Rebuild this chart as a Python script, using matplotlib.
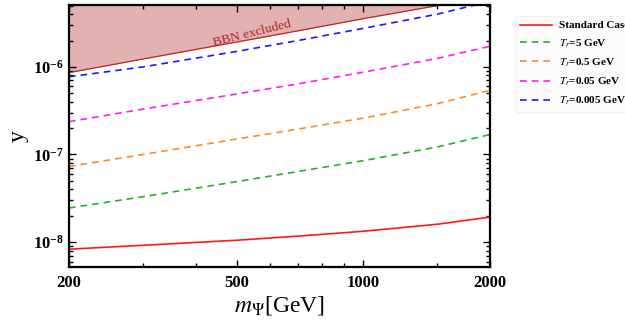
import numpy as np
import matplotlib
matplotlib.use('Agg')
import matplotlib.pyplot as plt
from matplotlib.ticker import FixedLocator, NullFormatter, LogLocator

# mass grid [GeV]
m = [200, 300, 500, 700, 1000, 1500, 2000]

# Yukawa coupling curves
y_standard = [8.3e-9, 9.2e-9, 1.05e-8, 1.17e-8, 1.33e-8, 1.6e-8, 1.93e-8]
y_tr5 = [2.45e-8, 3.3e-8, 4.9e-8, 6.4e-8, 8.5e-8, 1.22e-7, 1.69e-7]
y_tr05 = [7.3e-8, 1.0e-7, 1.5e-7, 1.95e-7, 2.6e-7, 3.8e-7, 5.4e-7]
y_tr005 = [2.37e-7, 3.3e-7, 4.9e-7, 6.4e-7, 8.7e-7, 1.25e-6, 1.72e-6]
y_tr0005 = [7.7e-7, 1.0e-6, 1.5e-6, 2.0e-6, 2.75e-6, 4.0e-6, 5.6e-6]
y_bbn = [8.6e-7, 1.23e-6, 1.92e-6, 2.58e-6, 3.55e-6, 5.0e-6, 6.5e-6]

x_ticks = [200, 500, 1000, 2000]

plt.rcParams['font.family'] = ['Liberation Serif', 'DejaVu Serif']
plt.rcParams['mathtext.fontset'] = 'stix'

fig = plt.figure(figsize=(6.25, 3.26), dpi=100)
ax = fig.add_axes([0.1104, 0.181, 0.6736, 0.804])

ax.fill_between(m, y_bbn, 1e-4, color='#e2b1b1', lw=0)
ax.plot(m, y_bbn, color='#b22a2a', lw=0.9)

ax.plot(m, y_standard, color='#ff1a1a', lw=1.2, label='Standard Case')
ax.plot(m, y_tr5, color='#1fb51f', lw=1.2, ls=(0, (4, 3)), label=r'$\boldsymbol{T_r}$=5 GeV')
ax.plot(m, y_tr05, color='#ff8c1a', lw=1.2, ls=(0, (4, 3)), label=r'$\boldsymbol{T_r}$=0.5 GeV')
ax.plot(m, y_tr005, color='#ff1aff', lw=1.2, ls=(0, (4, 3)), label=r'$\boldsymbol{T_r}$=0.05 GeV')
ax.plot(m, y_tr0005, color='#1a1aff', lw=1.2, ls=(0, (4, 3)), label=r'$\boldsymbol{T_r}$=0.005 GeV')

ax.text(545, 2.4e-6, 'BBN excluded', color='#b22222', fontsize=9.7, rotation=14,
        ha='center', va='center')

ax.set_xscale('log')
ax.set_yscale('log')
ax.set_xlim(200, 2000)
ax.set_ylim(5.2e-9, 5.1e-6)

ax.xaxis.set_major_locator(FixedLocator(x_ticks))
ax.set_xticklabels([str(t) for t in x_ticks], fontweight='bold', fontsize=12)
ax.xaxis.set_minor_locator(FixedLocator([300, 400, 600, 700, 800, 900, 1500]))
ax.xaxis.set_minor_formatter(NullFormatter())
ax.yaxis.set_major_locator(LogLocator(base=10))
ax.yaxis.set_minor_locator(LogLocator(base=10, subs=np.arange(2, 10)))
ax.yaxis.set_minor_formatter(NullFormatter())
for lab in ax.get_yticklabels():
    lab.set_fontweight('bold')
    lab.set_fontsize(12)

ax.tick_params(which='both', direction='in', top=True, right=True, width=1.0)
ax.tick_params(which='major', length=5)
ax.tick_params(which='minor', length=3)
ax.tick_params(axis='x', pad=6)
for sp in ax.spines.values():
    sp.set_linewidth(1.6)

ax.set_xlabel(r'$m_\Psi$[GeV]', fontsize=17, labelpad=2)
ax.set_ylabel('y', fontsize=17, labelpad=3)

leg = fig.legend(loc='upper left', bbox_to_anchor=(0.824, 0.952), frameon=True,
                 prop={'weight': 'bold', 'size': 8}, handlelength=2.9,
                 labelspacing=0.6, borderpad=0.45, handletextpad=0.6,
                 borderaxespad=0)
leg.get_frame().set_facecolor('#fafafa')
leg.get_frame().set_edgecolor('#f0f0f0')

fig.savefig('out.png', dpi=100)
